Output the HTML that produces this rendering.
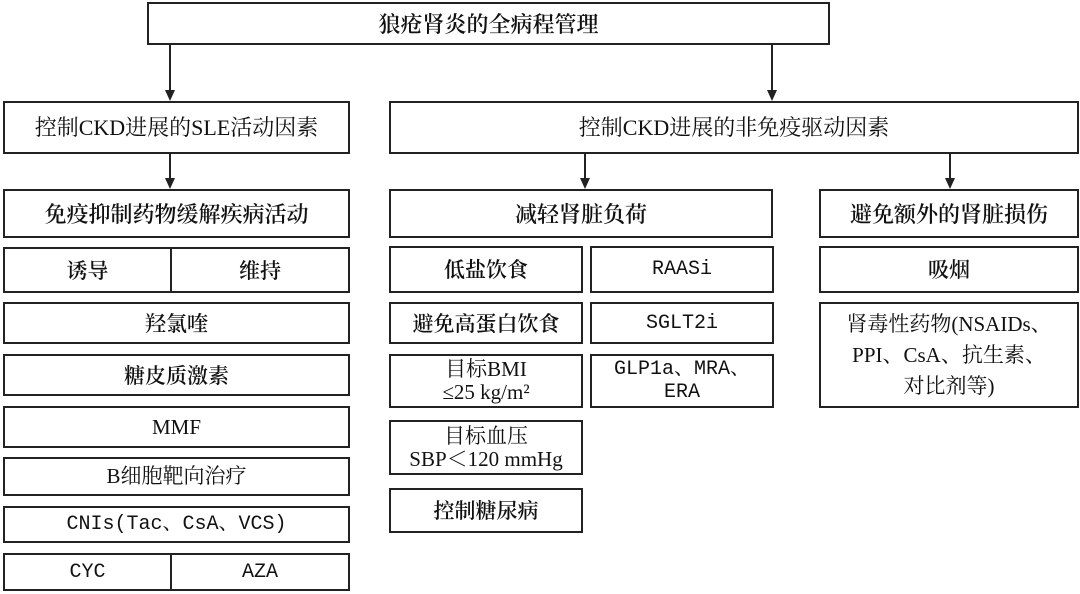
<!DOCTYPE html>
<html><head><meta charset="utf-8"><style>
body{margin:0;width:1080px;height:594px;background:#fff;position:relative;overflow:hidden;font-family:"Liberation Serif","Noto Serif CJK SC",serif;color:#111}
.b{position:absolute;box-sizing:border-box;border:2px solid #222;display:flex;align-items:center;justify-content:center;text-align:center;font-size:21px;line-height:23px}
.m{font-family:"Liberation Mono","Noto Serif CJK SC",monospace;font-size:20px}
.c{font-family:"Noto Serif CJK SC",serif;font-weight:600}
svg{position:absolute;left:0;top:0}
</style></head><body>
<svg width="1080" height="594">
<g stroke="#222" stroke-width="2">
<line x1="170" y1="44" x2="170" y2="92"/>
<line x1="772" y1="44" x2="772" y2="92"/>
<line x1="170" y1="153" x2="170" y2="180"/>
<line x1="585" y1="153" x2="585" y2="180"/>
<line x1="950" y1="153" x2="950" y2="180"/>
</g>
<g fill="#222">
<polygon points="165,90 175,90 170,101"/>
<polygon points="767,90 777,90 772,101"/>
<polygon points="165,178 175,178 170,189"/>
<polygon points="580,178 590,178 585,189"/>
<polygon points="945,178 955,178 950,189"/>
</g></svg>
<div class="b c" style="left:147px;top:2px;width:683px;height:43px;font-size:22px">狼疮肾炎的全病程管理</div>
<div class="b" style="left:3px;top:101px;width:347px;height:53px;font-size:22px">控制CKD进展的SLE活动因素</div>
<div class="b" style="left:389px;top:101px;width:690px;height:53px;font-size:22px">控制CKD进展的非免疫驱动因素</div>
<div class="b c" style="left:3px;top:189px;width:347px;height:49px;font-size:22px">免疫抑制药物缓解疾病活动</div>
<div class="b c" style="left:389px;top:189px;width:384px;height:49px;font-size:22px">减轻肾脏负荷</div>
<div class="b c" style="left:819px;top:189px;width:260px;height:49px;font-size:22px">避免额外的肾脏损伤</div>
<div class="b c" style="left:3px;top:247px;width:169px;height:46px">诱导</div>
<div class="b c" style="left:170px;top:247px;width:180px;height:46px">维持</div>
<div class="b c" style="left:3px;top:302px;width:347px;height:42px">羟氯喹</div>
<div class="b c" style="left:3px;top:354px;width:347px;height:42px">糖皮质激素</div>
<div class="b" style="left:3px;top:406px;width:347px;height:42px">MMF</div>
<div class="b" style="left:3px;top:457px;width:347px;height:39px">B细胞靶向治疗</div>
<div class="b m" style="left:3px;top:506px;width:347px;height:37px">CNIs(Tac、CsA、VCS)</div>
<div class="b m" style="left:3px;top:553px;width:169px;height:38px">CYC</div>
<div class="b m" style="left:170px;top:553px;width:180px;height:38px">AZA</div>
<div class="b c" style="left:389px;top:246px;width:194px;height:47px">低盐饮食</div>
<div class="b m" style="left:590px;top:246px;width:184px;height:47px">RAASi</div>
<div class="b c" style="left:819px;top:246px;width:260px;height:47px">吸烟</div>
<div class="b c" style="left:389px;top:302px;width:194px;height:42px">避免高蛋白饮食</div>
<div class="b m" style="left:590px;top:302px;width:184px;height:42px">SGLT2i</div>
<div class="b" style="left:389px;top:354px;width:194px;height:54px">目标BMI<br>≤25 kg/m²</div>
<div class="b m" style="left:590px;top:354px;width:184px;height:54px">GLP1a、MRA、<br>ERA</div>
<div class="b" style="left:819px;top:302px;width:260px;height:106px;line-height:31px">肾毒性药物(NSAIDs、<br>PPI、CsA、抗生素、<br>对比剂等)</div>
<div class="b" style="left:389px;top:420px;width:194px;height:55px">目标血压<br>SBP＜120 mmHg</div>
<div class="b c" style="left:389px;top:488px;width:194px;height:45px">控制糖尿病</div>
</body></html>
